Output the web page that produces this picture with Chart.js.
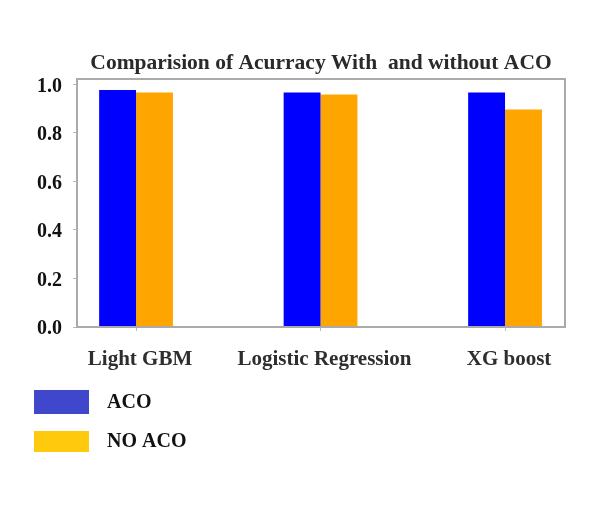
<!DOCTYPE html>
<html>
<head>
<meta charset="utf-8">
<script src="https://cdn.jsdelivr.net/npm/chart.js@4"></script>
<style>
  html, body { margin: 0; padding: 0; background: #ffffff; }
  canvas { display: block; }
</style>
</head>
<body>
<canvas id="c" width="610" height="514"></canvas>
<script>
const categories = ["Light GBM", "Logistic Regression", "XG boost"];
const seriesNames = ["ACO", "NO ACO"];
const acoValues = [0.977, 0.966, 0.966];
const noAcoValues = [0.966, 0.958, 0.896];
const yTicks = [0.0, 0.2, 0.4, 0.6, 0.8, 1.0];
const titleText = "Comparision of Acurracy With  and without ACO";

const barColors = ["#0000ff", "#ffa500"];
const legendColors = ["#3f48cc", "#ffc90e"];
const serif = '"Liberation Serif", "Times New Roman", serif';

const boxPlugin = {
  id: 'plotBox',
  afterDatasetsDraw(chart) {
    const {ctx, chartArea: a} = chart;
    ctx.save();
    ctx.strokeStyle = '#aaaaaa';
    ctx.lineWidth = 2;
    ctx.strokeRect(a.left, a.top, a.right - a.left, a.bottom - a.top);
    ctx.restore();
  }
};

const legendPlugin = {
  id: 'sideLegend',
  afterDraw(chart) {
    const ctx = chart.ctx;
    const rows = [
      {y: 390, h: 24, ty: 403},
      {y: 431, h: 21, ty: 442}
    ];
    ctx.save();
    chart.data.datasets.forEach((ds, i) => {
      const r = rows[i];
      ctx.fillStyle = legendColors[i];
      ctx.fillRect(34, r.y, 55, r.h);
      ctx.fillStyle = '#111111';
      ctx.font = 'bold 20px ' + serif;
      ctx.textAlign = 'left';
      ctx.textBaseline = 'middle';
      ctx.fillText(ds.label, 107, r.ty);
    });
    ctx.restore();
  }
};

new Chart(document.getElementById('c'), {
  type: 'bar',
  data: {
    datasets: [
      {
        label: seriesNames[0],
        data: acoValues.map((v, i) => ({x: i, y: v})),
        backgroundColor: barColors[0],
        borderWidth: 0
      },
      {
        label: seriesNames[1],
        data: noAcoValues.map((v, i) => ({x: i, y: v})),
        backgroundColor: barColors[1],
        borderWidth: 0
      }
    ]
  },
  options: {
    responsive: false,
    animation: false,
    devicePixelRatio: 1,
    layout: { padding: { left: 0, right: 45, top: 0, bottom: 0 } },
    datasets: { bar: { barPercentage: 1.0, categoryPercentage: 0.40 } },
    plugins: {
      legend: { display: false },
      tooltip: { enabled: false },
      title: {
        display: true,
        text: titleText,
        fullSize: false,
        color: '#2a2a2a',
        font: { family: serif, size: 21.5, weight: 'bold' },
        padding: { top: 51, bottom: 2.2 }
      }
    },
    scales: {
      x: {
        type: 'linear',
        offset: false,
        min: -0.32,
        max: 2.325,
        afterFit(scale) { scale.height = 187; },
        afterBuildTicks(scale) { scale.ticks = categories.map((c, i) => ({value: i})); },
        grid: { offset: false, drawOnChartArea: false, tickLength: 4, color: '#bbbbbb' },
        border: { display: false },
        ticks: {
          autoSkip: false,
          maxRotation: 0,
          padding: 16,
          labelOffset: 4,
          color: '#2e2e2e',
          font: { family: serif, size: 21, weight: 'bold' },
          callback: (v) => categories[v]
        }
      },
      y: {
        min: 0,
        max: 1.022,
        afterFit(scale) { scale.width = 77; },
        afterBuildTicks(scale) { scale.ticks = yTicks.map(v => ({value: v})); },
        grid: { drawOnChartArea: false, tickLength: 4, color: '#bbbbbb' },
        border: { display: false },
        ticks: {
          padding: 11,
          labelOffset: 2,
          color: '#111111',
          font: { family: serif, size: 20, weight: 'bold' },
          callback: (v) => Number(v).toFixed(1)
        }
      }
    }
  },
  plugins: [boxPlugin, legendPlugin]
});
</script>
</body>
</html>
